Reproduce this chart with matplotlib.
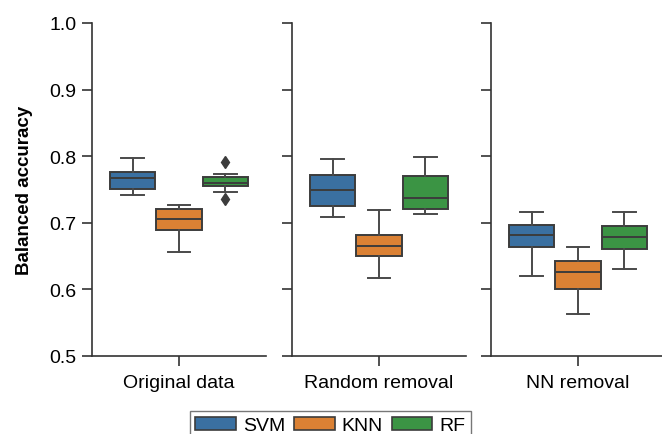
import matplotlib.pyplot as plt
from matplotlib.patches import Patch

plt.rcParams['font.family'] = ['Liberation Sans', 'DejaVu Sans']

panels = ["Original data", "Random removal", "NN removal"]
models = ["SVM", "KNN", "RF"]
colors = ["#3a70a1", "#db8134", "#3b9444"]

# five-number summaries: [whislo, q1, med, q3, whishi]
svm_stats = [[0.741, 0.751, 0.767, 0.777, 0.797],
             [0.709, 0.725, 0.749, 0.772, 0.796],
             [0.620, 0.663, 0.682, 0.697, 0.716]]
knn_stats = [[0.656, 0.689, 0.705, 0.720, 0.727],
             [0.617, 0.650, 0.665, 0.681, 0.719],
             [0.563, 0.600, 0.626, 0.643, 0.664]]
rf_stats = [[0.746, 0.755, 0.760, 0.769, 0.774],
            [0.713, 0.721, 0.737, 0.771, 0.799],
            [0.630, 0.661, 0.678, 0.695, 0.716]]
rf_fliers = [[0.792, 0.735], [], []]

yticks = [0.5, 0.6, 0.7, 0.8, 0.9, 1.0]

line_col = "#3c3c3c"
fig = plt.figure(figsize=(6.62, 4.35), dpi=100)

lefts = [92, 292, 491]
axes = []
for p, name in enumerate(panels):
    ax = fig.add_axes([lefts[p] / 662, 78 / 435, 174 / 662, 333 / 435])
    axes.append(ax)
    all_stats = [svm_stats[p], knn_stats[p], rf_stats[p]]
    fliers = [[], [], rf_fliers[p]]
    w = 0.8 / 3
    for m in range(3):
        s = all_stats[m]
        st = dict(whislo=s[0], q1=s[1], med=s[2], q3=s[3], whishi=s[4],
                  fliers=fliers[m])
        ax.bxp([st], positions=[(m - 1) * w], widths=[w * 0.98],
               patch_artist=True,
               boxprops=dict(facecolor=colors[m], edgecolor=line_col, linewidth=1.4),
               medianprops=dict(color=line_col, linewidth=1.4),
               whiskerprops=dict(color="#4a4a4a", linewidth=1.4),
               capprops=dict(color="#4a4a4a", linewidth=1.4),
               flierprops=dict(marker="d", markerfacecolor=line_col,
                               markeredgecolor=line_col, markersize=6))
    ax.set_xlim(-0.5, 0.5)
    ax.set_ylim(0.5, 1.0)
    ax.set_xticks([0])
    ax.set_xticklabels([name], fontsize=14)
    ax.set_yticks(yticks)
    ax.spines["top"].set_visible(False)
    ax.spines["right"].set_visible(False)
    for sp in ["left", "bottom"]:
        ax.spines[sp].set_color("#333333")
        ax.spines[sp].set_linewidth(1.2)
    ax.tick_params(length=7, width=1.2, color="#333333", labelsize=14, pad=4)
    ax.tick_params(axis="x", pad=6)
    if p > 0:
        ax.set_yticklabels([])

axes[0].set_yticklabels(["%.1f" % t for t in yticks])
axes[0].set_ylabel("Balanced accuracy", fontsize=13.5, fontweight="bold", labelpad=12)

handles = [Patch(facecolor=colors[i], edgecolor=line_col, linewidth=1.2, label=models[i])
           for i in range(3)]
fig.legend(handles=handles, loc="lower center", bbox_to_anchor=(0.499, -0.014),
           ncol=3, fontsize=14, frameon=True, fancybox=False, edgecolor="#555555",
           handlelength=2.1, handleheight=0.7, handletextpad=0.35, columnspacing=0.45,
           borderpad=0.3, borderaxespad=0)

fig.savefig("out.png", dpi=100)
